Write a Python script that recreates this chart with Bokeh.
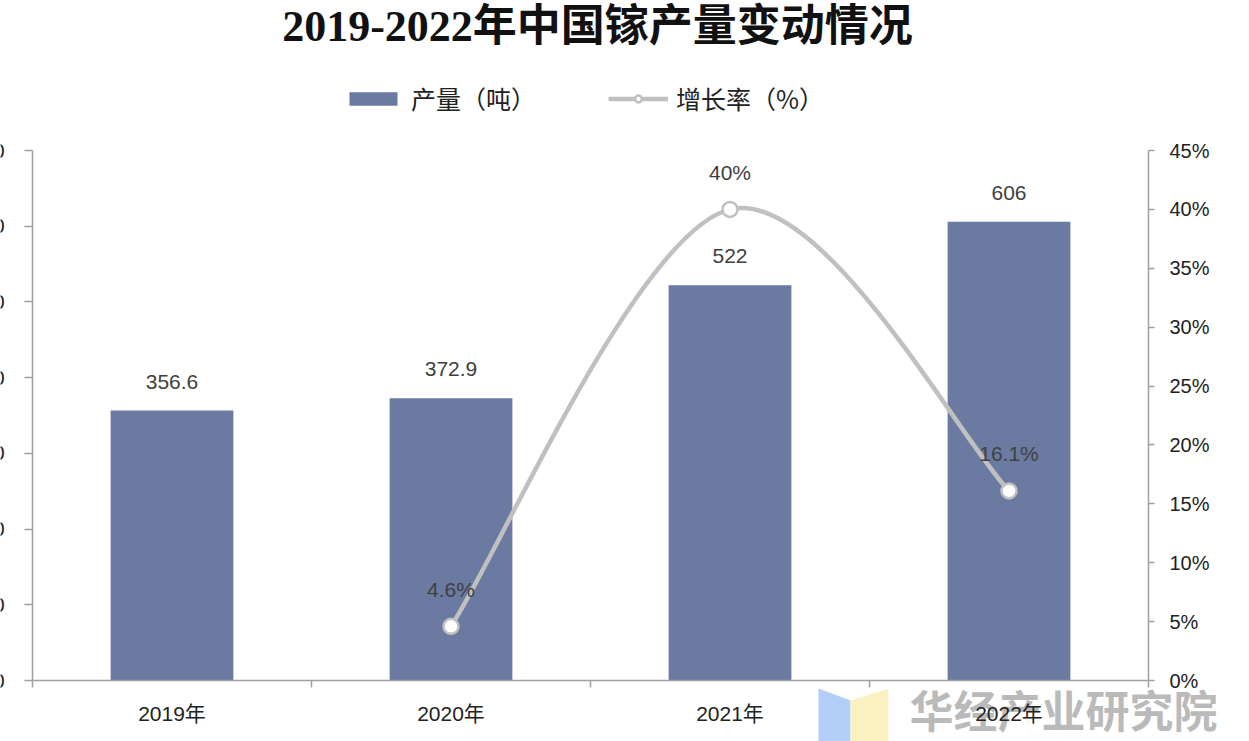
from bokeh.plotting import figure
from bokeh.models import (Range1d, LinearAxis, FixedTicker, PrintfTickFormatter,
                          ColumnDataSource, Legend, LegendItem, Label, PolyAnnotation)
from bokeh.core.properties import value
from bokeh.embed import file_html
from bokeh.resources import INLINE

# ---------------- data ----------------
years = ["2019年", "2020年", "2021年", "2022年"]
output_t = [356.6, 372.9, 522, 606]
output_labels = ["356.6", "372.9", "522", "606"]
growth_years = ["2020年", "2021年", "2022年"]
growth_pct = [4.6, 40.0, 16.1]
growth_labels = ["4.6%", "40%", "16.1%"]
left_ticks = [0, 100, 200, 300, 400, 500, 600, 700]
right_ticks = [0, 5, 10, 15, 20, 25, 30, 35, 40, 45]

TITLE = "2019-2022年中国镓产量变动情况"
WATERMARK = "华经产业研究院"

# ---------------- layout (page pixels) ----------------
W, H = 1249, 741
PL, PR, PT, PB = 32, 1148, 150, 680   # plot box edges

BAR_COLOR = "#6a7aa0"
LINE_COLOR = "#c0c0c0"
AXIS_COLOR = "#a0a0a0"
TEXT_COLOR = "#404040"
SANS = "Liberation Sans"
CJK = "Noto Sans CJK SC"
MIXED = "Liberation Sans, Noto Sans CJK SC"

n = len(years)
xs_per_px = n / (PR - PL)
ly0, ly1 = left_ticks[0], left_ticks[-1]
ry0, ry1 = right_ticks[0], right_ticks[-1]
ly_per_px = (ly1 - ly0) / (PB - PT)
ry_per_px = (ry1 - ry0) / (PB - PT)

x_range = Range1d(0 - PL * xs_per_px, n + (W - PR) * xs_per_px)
y_range = Range1d(ly0 - (H - PB) * ly_per_px, ly1 + PT * ly_per_px)
pct_range = Range1d(ry0 - (H - PB) * ry_per_px, ry1 + PT * ry_per_px)

xpos = {c: i + 0.5 for i, c in enumerate(years)}
bar_x = [xpos[c] for c in years]
gx = [xpos[c] for c in growth_years]

p = figure(width=W, height=H, x_range=x_range, y_range=y_range,
           output_backend="svg", toolbar_location=None, x_axis_location=None,
           y_axis_location=None, min_border=0)
p.title.visible = False
p.outline_line_color = None
p.xgrid.visible = False
p.ygrid.visible = False
p.background_fill_color = "white"
p.border_fill_color = "white"
p.extra_y_ranges = {"pct": pct_range}

# x axis (drawn at y = 0)
xa = LinearAxis(fixed_location=ly0, bounds=(0, n),
                ticker=FixedTicker(ticks=bar_x, minor_ticks=list(range(n + 1))))
xa.major_label_overrides = {xpos[c]: c for c in years}
xa.major_tick_in = 0
xa.major_tick_out = 0
xa.minor_tick_in = 0
xa.minor_tick_out = 7
xa.minor_tick_line_color = AXIS_COLOR
xa.minor_tick_line_width = 1.5
xa.axis_line_color = AXIS_COLOR
xa.axis_line_width = 1.5
xa.major_label_standoff = 14
xa.major_label_text_font = MIXED
xa.major_label_text_font_size = "21px"
xa.major_label_text_color = "#222222"
p.add_layout(xa, "below")

# left axis (drawn at x = 0)
ya = LinearAxis(fixed_location=0, bounds=(ly0, ly1), ticker=FixedTicker(ticks=left_ticks))
ya.minor_tick_line_color = None
ya.major_tick_in = 0
ya.major_tick_out = 8
ya.major_tick_line_color = AXIS_COLOR
ya.major_tick_line_width = 1.5
ya.axis_line_color = AXIS_COLOR
ya.axis_line_width = 1.5
ya.major_label_standoff = 20
ya.major_label_text_font = SANS
ya.major_label_text_font_size = "20px"
ya.major_label_text_color = "#222222"
p.add_layout(ya, "left")

# right axis (drawn at x = n)
ra = LinearAxis(y_range_name="pct", fixed_location=n, bounds=(ry0, ry1),
                ticker=FixedTicker(ticks=right_ticks),
                formatter=PrintfTickFormatter(format="%d%%"))
ra.minor_tick_line_color = None
ra.major_tick_in = 0
ra.major_tick_out = 6
ra.major_tick_line_color = AXIS_COLOR
ra.major_tick_line_width = 1.5
ra.axis_line_color = AXIS_COLOR
ra.axis_line_width = 1.5
ra.major_label_standoff = 15
ra.major_label_text_font = SANS
ra.major_label_text_font_size = "20px"
ra.major_label_text_color = "#222222"
p.add_layout(ra, "right")

# watermark (behind everything)
p.add_layout(PolyAnnotation(xs=[818, 850, 850, 818], ys=[53, 41, 0, 0],
                            xs_units="screen", ys_units="screen", fill_color="#b4cff7",
                            fill_alpha=1, line_color=None, level="underlay"))
p.add_layout(PolyAnnotation(xs=[850, 888, 888, 850], ys=[41, 53, 0, 0],
                            xs_units="screen", ys_units="screen", fill_color="#faf1c0",
                            fill_alpha=1, line_color=None, level="underlay"))
p.add_layout(Label(x=909, y=33, x_units="screen", y_units="screen", text=WATERMARK,
                   text_align="left", text_baseline="middle", text_font_size="44px",
                   text_font=CJK, text_font_style="bold", text_color="#8c8c8c",
                   text_alpha=0.6, level="underlay"))

# bars
bsrc = ColumnDataSource(dict(x=bar_x, top=output_t, lab=output_labels))
bars = p.vbar(x="x", top="top", bottom=0, width=0.44, source=bsrc,
              fill_color=BAR_COLOR, line_color=None)
p.text(x="x", y="top", text="lab", source=bsrc, text_align="center", text_baseline="middle",
       y_offset=-29, text_font=value(SANS), text_font_size="21px", text_color=TEXT_COLOR)

# smooth growth line (Catmull-Rom style bezier through the data points)
pts = list(zip(gx, growth_pct))
x0s, y0s, x1s, y1s, cx0s, cy0s, cx1s, cy1s = ([] for _ in range(8))
for i in range(len(pts) - 1):
    pm = pts[i - 1] if i > 0 else pts[i]
    pa = pts[i]
    pb = pts[i + 1]
    pn = pts[i + 2] if i + 2 < len(pts) else pts[i + 1]
    x0s.append(pa[0]); y0s.append(pa[1])
    x1s.append(pb[0]); y1s.append(pb[1])
    cx0s.append(pa[0] + (pb[0] - pm[0]) / 6); cy0s.append(pa[1] + (pb[1] - pm[1]) / 6)
    cx1s.append(pb[0] - (pn[0] - pa[0]) / 6); cy1s.append(pb[1] - (pn[1] - pa[1]) / 6)
p.bezier(x0=x0s, y0=y0s, x1=x1s, y1=y1s, cx0=cx0s, cy0=cy0s, cx1=cx1s, cy1=cy1s,
         y_range_name="pct", line_color=LINE_COLOR, line_width=4.5)
# legend-only line (a single missing point: draws nothing on the plot)
legend_line = p.line(x=[float("nan")], y=[float("nan")], y_range_name="pct",
                     line_color=LINE_COLOR, line_width=4.5)

gsrc = ColumnDataSource(dict(x=gx, y=growth_pct, lab=growth_labels))
marks = p.scatter(x="x", y="y", source=gsrc, y_range_name="pct", size=15, fill_color="white",
                  line_color=LINE_COLOR, line_width=2.5)
p.text(x="x", y="y", text="lab", source=gsrc, y_range_name="pct", text_align="center",
       text_baseline="middle", y_offset=-37, text_font=value(SANS), text_font_size="21px",
       text_color=TEXT_COLOR)

# legend
legend = Legend(items=[LegendItem(label="产量（吨）", renderers=[bars]),
                       LegendItem(label="增长率（%）", renderers=[legend_line, marks])],
                orientation="horizontal", location=(343, H - 116),
                label_text_font=CJK, label_text_font_size="25px", label_text_color="#222222",
                glyph_width=60, glyph_height=17, spacing=72, label_standoff=8,
                padding=0, margin=0, border_line_color=None, background_fill_alpha=0)
p.add_layout(legend, "center")

# title
p.add_layout(Label(x=597, y=H - 26, x_units="screen", y_units="screen", text=TITLE,
                   text_align="center", text_baseline="middle", text_font_size="44px",
                   text_font="Liberation Serif, Noto Sans CJK SC", text_font_style="bold",
                   text_color="#111111"))

open("out.html", "w").write(file_html(p, INLINE))
